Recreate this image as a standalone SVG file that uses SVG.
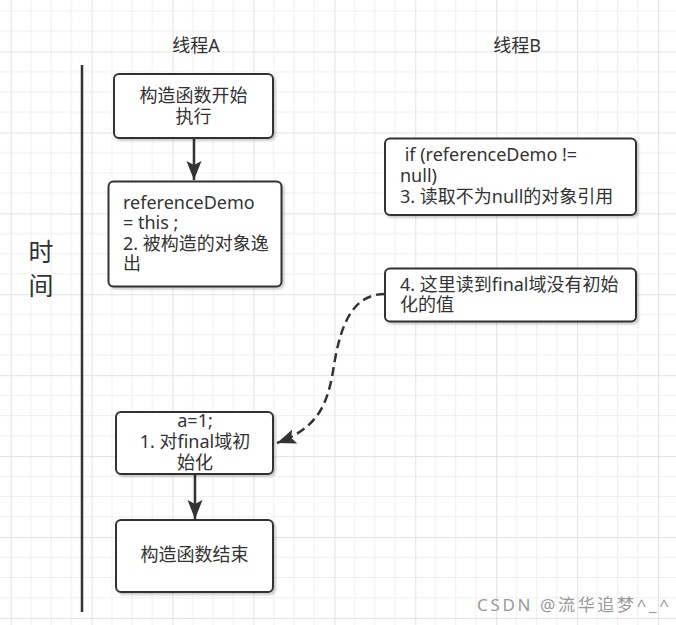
<svg xmlns="http://www.w3.org/2000/svg" width="676" height="625" viewBox="0 0 676 625">
<defs>
<style>
.box{fill:#ffffff;stroke:#333333;stroke-width:2;filter:url(#sh);}
.t{font-family:"Noto Sans","Noto Sans CJK SC",sans-serif;font-size:18px;fill:#333333;}
.c{text-anchor:middle;}
.edge{fill:none;stroke:#333333;stroke-width:2.5;}
.dash{stroke-dasharray:9 5;}
.minor{stroke:#efefef;stroke-width:1;}
.major{stroke:#e2e2e2;stroke-width:1;}
</style>
<pattern id="grid" x="10.7" y="51.5" width="80.92" height="80.92" patternUnits="userSpaceOnUse">
<path class="minor" d="M20.23,0V80.92M40.46,0V80.92M60.69,0V80.92M0,20.23H80.92M0,40.46H80.92M0,60.69H80.92"/>
<path class="major" d="M0.5,0V80.92M0,0.5H80.92"/>
</pattern>
<filter id="sh" x="-10%" y="-10%" width="130%" height="140%">
<feDropShadow dx="2" dy="2" stdDeviation="1" flood-color="#000000" flood-opacity="0.2"/>
</filter>
<marker id="arr" markerUnits="userSpaceOnUse" markerWidth="20" markerHeight="16" viewBox="0 0 20 16" refX="19" refY="8" orient="auto">
<path d="M0,0.5 L19,8 L0,15.5 L4,8 Z" fill="#333333"/>
</marker>
</defs>
<rect width="676" height="625" fill="#ffffff"/>
<rect width="676" height="625" fill="url(#grid)"/>

<g id="timeline">
<line x1="82" y1="65" x2="82" y2="612" stroke="#333333" stroke-width="2.5"/>
<text class="t c" x="41" y="261" style="font-size:25px">时</text>
<text class="t c" x="41" y="295" style="font-size:25px">间</text>
</g>

<g id="title-a"><text class="t c" x="196" y="51.5">线程A</text></g>
<g id="title-b"><text class="t c" x="517" y="51.5">线程B</text></g>

<g id="connectors">
<path class="edge" d="M194,138 L194,180" marker-end="url(#arr)"/>
<path class="edge" d="M195,474 L195,519" marker-end="url(#arr)"/>
<path class="edge dash" d="M385,294 C350,294 340,330 334,365 C328,405 318,428 277,443" marker-end="url(#arr)"/>
</g>

<g id="a1">
<rect class="box" x="114" y="74" width="159" height="64" rx="5"/>
<text class="t c" x="193.5" y="101.5">构造函数开始</text>
<text class="t c" x="193.5" y="122.5">执行</text>
</g>

<g id="a2">
<rect class="box" x="108.5" y="181.5" width="173" height="105" rx="5"/>
<text class="t" x="123" y="208.5">referenceDemo</text>
<text class="t" x="123" y="229">= this ;</text>
<text class="t" x="123" y="249.5">2. 被构造的对象逸</text>
<text class="t" x="123" y="270">出</text>
</g>

<g id="b1">
<rect class="box" x="385" y="138.5" width="251" height="76.5" rx="5"/>
<text class="t" x="400" y="161" xml:space="preserve"> if (referenceDemo !=</text>
<text class="t" x="400" y="182">null)</text>
<text class="t" x="400" y="203">3. 读取不为null的对象引用</text>
</g>

<g id="b2">
<rect class="box" x="385" y="268.5" width="251" height="53" rx="5"/>
<text class="t" x="400" y="291">4. 这里读到final域没有初始</text>
<text class="t" x="400" y="311">化的值</text>
</g>

<g id="a3">
<rect class="box" x="116" y="412" width="157" height="62" rx="5"/>
<text class="t c" x="195" y="427">a=1;</text>
<text class="t c" x="195" y="448">1. 对final域初</text>
<text class="t c" x="195" y="468.5">始化</text>
</g>

<g id="a4">
<rect class="box" x="116" y="520" width="157" height="72" rx="5"/>
<text class="t c" x="194.5" y="561">构造函数结束</text>
</g>

<g id="watermark">
<text x="477" y="611" textLength="192" lengthAdjust="spacing" style="font-family:'Noto Sans','Noto Sans CJK SC',sans-serif;font-size:17px;fill:#999999">CSDN @流华追梦^_^</text>
</g>
</svg>
